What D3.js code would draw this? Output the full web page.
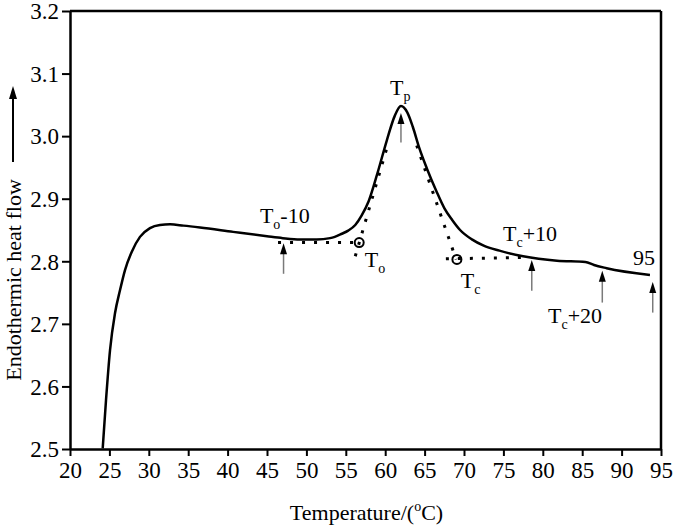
<!DOCTYPE html>
<html><head><meta charset="utf-8">
<script src="https://cdn.jsdelivr.net/npm/d3@7/dist/d3.min.js"></script>
<style>
body{margin:0;background:#fff;}
text{font-family:"Liberation Serif","Times New Roman",serif;fill:#000;}
</style></head>
<body><svg id="c" width="675" height="530"></svg>
<script>
// ---- data ----
const curveT = [24.15,24.57,25.08,25.71,26.35,26.98,27.83,28.88,30.15,31.42,32.7,34.4,36.5,40.7,45.0,47.0,49.2,51.3,53.0,53.6,54.5,55.3,56.2,57.0,57.9,59.0,60.2,61.2,62.0,62.8,63.5,64.3,65.3,66.5,67.5,68.5,69.5,71.0,72.5,74.5,77.5,81.8,85.4,86.5,88.1,93.6];
const curveV = [2.501,2.578,2.658,2.717,2.754,2.786,2.815,2.839,2.853,2.858,2.859,2.857,2.854,2.847,2.840,2.837,2.835,2.835,2.837,2.839,2.844,2.849,2.858,2.873,2.896,2.940,2.993,3.032,3.048,3.038,3.015,2.982,2.948,2.912,2.885,2.866,2.850,2.835,2.825,2.817,2.808,2.801,2.799,2.794,2.789,2.778];
// dotted construction lines: [T1, v1, T2, v2]
const dottedLines = [
  [46.4, 2.830, 56.7, 2.830],
  [56.2, 2.808, 60.3, 2.985],
  [64.0, 2.985, 69.0, 2.803],
  [67.7, 2.804, 77.3, 2.806]
];
const circleT = [56.7, 69.1];
const circleV = [2.830, 2.803];
const arrowT = [47.1, 62.0, 78.6, 87.55, 93.95];
const arrowTip = [2.829, 3.037, 2.802, 2.785, 2.767];
const arrowTail = [2.780, 2.990, 2.753, 2.734, 2.718];
// labels: main, subscript, suffix, T, v
const labelMain = ["T","T","T","T","T","T","95"];
const labelSub  = ["o","p","o","c","c","c",""];
const labelSuf  = ["-10","","","","+10","+20",""];
const labelT = [44.1, 60.6, 57.4, 69.6, 74.95, 80.66, 91.45];
const labelV = [2.861, 3.066, 2.791, 2.757, 2.832, 2.701, 2.794];
const xTicks = [20,25,30,35,40,45,50,55,60,65,70,75,80,85,90,95];
const yTicks = [2.5,2.6,2.7,2.8,2.9,3.0,3.1,3.2];

// ---- chart ----
const svg = d3.select("#c");
const L = 70, T0 = 11, W = 591, H = 438;
const x = d3.scaleLinear().domain([20,95]).range([L, L+W]);
const y = d3.scaleLinear().domain([2.5,3.2]).range([T0+H, T0]);
const FS = 22, TFS = 23;

// frame top/right
svg.append("line").attr("x1",L).attr("x2",L+W).attr("y1",T0).attr("y2",T0).attr("stroke","#000").attr("stroke-width",2.5);
svg.append("line").attr("x1",L+W).attr("x2",L+W).attr("y1",T0).attr("y2",T0+H).attr("stroke","#000").attr("stroke-width",2.5);

const gx = svg.append("g").attr("transform",`translate(0,${T0+H})`)
  .call(d3.axisBottom(x).tickValues(xTicks).tickSize(7).tickSizeOuter(0).tickFormat(d3.format("d")));
const gy = svg.append("g").attr("transform",`translate(${L},0)`)
  .call(d3.axisLeft(y).tickValues(yTicks).tickSize(8).tickSizeOuter(0).tickFormat(d3.format(".1f")));
[gx,gy].forEach(g=>{
  g.select(".domain").attr("stroke","#000").attr("stroke-width",2.5);
  g.selectAll(".tick line").attr("stroke","#000").attr("stroke-width",2);
  g.selectAll(".tick text").attr("font-family","Liberation Serif").attr("font-size",TFS).attr("fill","#000");
});
gx.selectAll(".tick text").attr("dy","0.95em").attr("y",7);
gy.selectAll(".tick text").attr("x",-11).attr("dy","0.34em");

// curve
const pts = curveT.map((t,i)=>[t,curveV[i]]);
svg.append("path").datum(pts)
  .attr("d", d3.line().x(d=>x(d[0])).y(d=>y(d[1])).curve(d3.curveMonotoneX))
  .attr("fill","none").attr("stroke","#000").attr("stroke-width",2.5);

// dotted lines
svg.selectAll(".dl").data(dottedLines).enter().append("line")
  .attr("x1",d=>x(d[0])).attr("y1",d=>y(d[1])).attr("x2",d=>x(d[2])).attr("y2",d=>y(d[3]))
  .attr("stroke","#000").attr("stroke-width",3).attr("stroke-dasharray","3,9");

// circles
svg.selectAll(".cc").data(circleT).enter().append("circle")
  .attr("cx",d=>x(d)).attr("cy",(d,i)=>y(circleV[i])).attr("r",4.5)
  .attr("fill","none").attr("stroke","#000").attr("stroke-width",2);

// arrows
arrowT.forEach((t,i)=>{
  const ax = x(t), ty = y(arrowTip[i]), by = y(arrowTail[i]);
  svg.append("line").attr("x1",ax).attr("x2",ax).attr("y1",by).attr("y2",ty+8)
    .attr("stroke","#7a7a7a").attr("stroke-width",1.5);
  svg.append("path").attr("d",`M${ax},${ty} L${ax-3.5},${ty+11} L${ax+3.5},${ty+11} Z`).attr("fill","#000");
});

// labels
labelMain.forEach((m,i)=>{
  const t = svg.append("text").attr("x",x(labelT[i])).attr("y",y(labelV[i])).attr("font-size",FS);
  t.append("tspan").text(m);
  if(labelSub[i]) t.append("tspan").attr("font-size",14).attr("dy",6).text(labelSub[i]);
  if(labelSuf[i]) t.append("tspan").attr("dy",-6).text(labelSuf[i]);
});

// axis titles
const xt = svg.append("text").attr("x",L+W/2+1).attr("y",520).attr("text-anchor","middle").attr("font-size",FS);
xt.append("tspan").text("Temperature/(");
xt.append("tspan").attr("font-size",14).attr("dy",-9).text("o");
xt.append("tspan").attr("dy",9).text("C)");

svg.append("text").attr("transform","translate(21,280) rotate(-90)").attr("text-anchor","middle")
  .attr("font-size",FS).text("Endothermic heat flow");
svg.append("line").attr("x1",13).attr("x2",13).attr("y1",162).attr("y2",96).attr("stroke","#000").attr("stroke-width",2);
svg.append("path").attr("d","M13,86 L9,99 L17,99 Z").attr("fill","#000");
</script></body></html>
